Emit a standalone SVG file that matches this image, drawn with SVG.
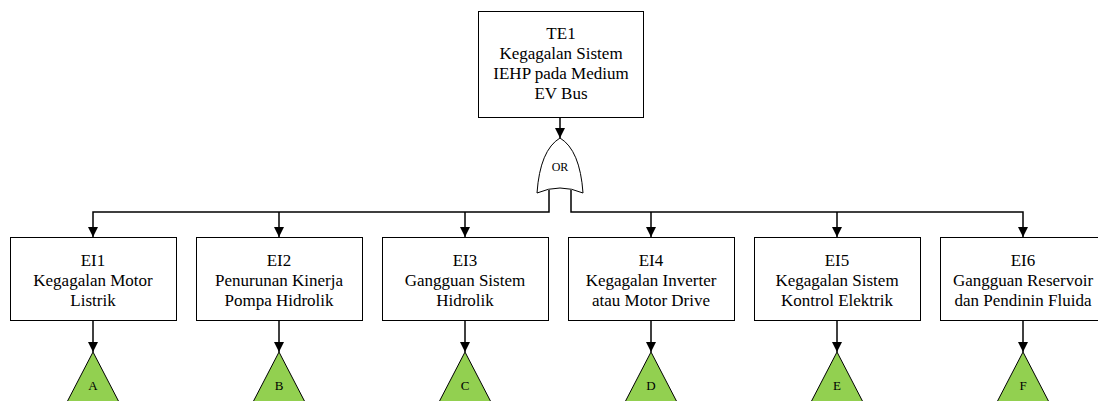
<svg xmlns="http://www.w3.org/2000/svg" width="1098" height="401" viewBox="0 0 1098 401">
<style>
.box{fill:#fff;stroke:#000;stroke-width:1}
.tri{fill:#92D050;stroke:#000;stroke-width:1}
.ln{fill:none;stroke:#000;stroke-width:1.5}
</style>
<defs>
<marker id="ah" markerWidth="10" markerHeight="10" refX="10" refY="5" orient="auto" markerUnits="userSpaceOnUse">
<path d="M0,0 L10,5 L0,10 Z" fill="#000"/>
</marker>
</defs>
<rect width="1098" height="401" fill="#fff"/>
<g id="connectors">
<path class="ln" d="M560,117 V138" marker-end="url(#ah)"/>
<path class="ln" d="M549,190 V212 H93 V237" marker-end="url(#ah)"/>
<path class="ln" d="M279,212 V237" marker-end="url(#ah)"/>
<path class="ln" d="M465,212 V237" marker-end="url(#ah)"/>
<path class="ln" d="M571,190 V212 H1023 V237" marker-end="url(#ah)"/>
<path class="ln" d="M651,212 V237" marker-end="url(#ah)"/>
<path class="ln" d="M837,212 V237" marker-end="url(#ah)"/>
<path class="ln" d="M93,320 V352" marker-end="url(#ah)"/>
<path class="ln" d="M279,320 V352" marker-end="url(#ah)"/>
<path class="ln" d="M465,320 V352" marker-end="url(#ah)"/>
<path class="ln" d="M651,320 V352" marker-end="url(#ah)"/>
<path class="ln" d="M837,320 V352" marker-end="url(#ah)"/>
<path class="ln" d="M1023,320 V352" marker-end="url(#ah)"/>
</g>
<g font-family="Liberation Serif, Times New Roman, Times, serif" font-size="17" text-anchor="middle" fill="#000">
<g id="TE1">
<rect class="box" x="478.5" y="11.5" width="165" height="106"/>
<text x="561" y="39">TE1</text>
<text x="561" y="59">Kegagalan Sistem</text>
<text x="561" y="79">IEHP pada Medium</text>
<text x="561" y="99">EV Bus</text>
</g>
<g id="OR">
<path d="M560,138 Q540,150 537,193 Q560,183 583,193 Q580,150 560,138 Z" fill="#fff" stroke="#000" stroke-width="1"/>
<text x="560" y="171" font-size="12">OR</text>
</g>
<g id="EI1">
<rect class="box" x="10.5" y="237.5" width="166" height="83"/>
<text x="93" y="266">EI1</text>
<text x="93" y="286">Kegagalan Motor</text>
<text x="93" y="306">Listrik</text>
</g>
<g id="EI2">
<rect class="box" x="196.5" y="237.5" width="166" height="83"/>
<text x="279" y="266">EI2</text>
<text x="279" y="286">Penurunan Kinerja</text>
<text x="279" y="306">Pompa Hidrolik</text>
</g>
<g id="EI3">
<rect class="box" x="382.5" y="237.5" width="166" height="83"/>
<text x="465" y="266">EI3</text>
<text x="465" y="286">Gangguan Sistem</text>
<text x="465" y="306">Hidrolik</text>
</g>
<g id="EI4">
<rect class="box" x="568.5" y="237.5" width="166" height="83"/>
<text x="651" y="266">EI4</text>
<text x="651" y="286">Kegagalan Inverter</text>
<text x="651" y="306">atau Motor Drive</text>
</g>
<g id="EI5">
<rect class="box" x="754.5" y="237.5" width="166" height="83"/>
<text x="837" y="266">EI5</text>
<text x="837" y="286">Kegagalan Sistem</text>
<text x="837" y="306">Kontrol Elektrik</text>
</g>
<g id="EI6">
<rect class="box" x="940.5" y="237.5" width="166" height="83"/>
<text x="1023" y="266">EI6</text>
<text x="1023" y="286">Gangguan Reservoir</text>
<text x="1023" y="306">dan Pendinin Fluida</text>
</g>
<g font-size="13">
<g id="A"><path class="tri" d="M93,352 L66,404 L120,404 Z"/><text x="93" y="390">A</text></g>
<g id="B"><path class="tri" d="M279,352 L252,404 L306,404 Z"/><text x="279" y="390">B</text></g>
<g id="C"><path class="tri" d="M465,352 L438,404 L492,404 Z"/><text x="465" y="390">C</text></g>
<g id="D"><path class="tri" d="M651,352 L624,404 L678,404 Z"/><text x="651" y="390">D</text></g>
<g id="E"><path class="tri" d="M837,352 L810,404 L864,404 Z"/><text x="837" y="390">E</text></g>
<g id="F"><path class="tri" d="M1023,352 L996,404 L1050,404 Z"/><text x="1023" y="390">F</text></g>
</g>
</g>
</svg>
